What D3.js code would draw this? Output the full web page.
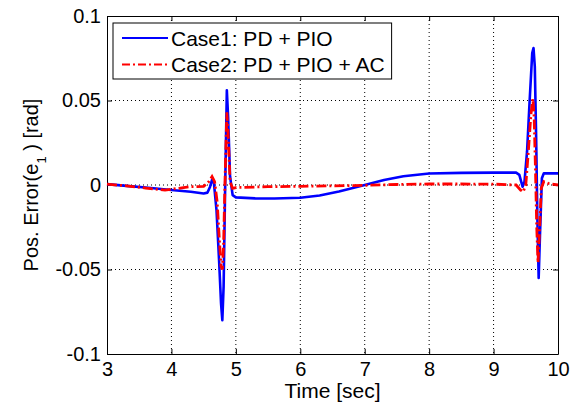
<!DOCTYPE html>
<html>
<head>
<meta charset="utf-8">
<script src="https://cdn.jsdelivr.net/npm/d3@7"></script>
<style>
  body { margin: 0; background: #fff; }
  text { font-family: "Liberation Sans", Arial, sans-serif; }
</style>
</head>
<body>
<script>
// values
const timeCase1 = [3, 3.3, 3.6, 4.0, 4.3, 4.5, 4.56, 4.6, 4.63, 4.66, 4.70, 4.74, 4.77, 4.79, 4.81, 4.83, 4.86, 4.88, 4.91, 4.95, 5.0, 5.3, 5.6, 6.0, 6.3, 6.6, 7.0, 7.3, 7.6, 8.0, 8.5, 9.0, 9.35, 9.4, 9.45, 9.48, 9.52, 9.56, 9.6, 9.62, 9.64, 9.66, 9.68, 9.70, 9.72, 9.75, 9.78, 10]
const errCase1 = [0.0005, -0.0005, -0.0015, -0.003, -0.004, -0.005, -0.0045, -0.001, 0.003, 0.001, -0.015, -0.045, -0.07, -0.08, -0.06, -0.01, 0.056, 0.04, 0.005, -0.006, -0.0073, -0.0079, -0.008, -0.0075, -0.0062, -0.0038, 0.0, 0.003, 0.0052, 0.0068, 0.0072, 0.0073, 0.0073, 0.006, -0.001, 0.002, 0.02, 0.05, 0.078, 0.081, 0.07, 0.03, -0.02, -0.055, -0.03, 0.004, 0.0069, 0.0069]

const timeCase2 = [3, 3.3, 3.6, 3.9, 4.1, 4.3, 4.5, 4.58, 4.63, 4.67, 4.71, 4.74, 4.77, 4.79, 4.81, 4.83, 4.86, 4.88, 4.91, 4.95, 5.0, 5.5, 6, 6.5, 7, 7.5, 8, 8.5, 9, 9.35, 9.42, 9.46, 9.5, 9.54, 9.58, 9.61, 9.63, 9.65, 9.67, 9.69, 9.71, 9.74, 9.78, 9.85, 10]
const errCase2 = [0.0005, -0.0005, -0.0018, -0.003, -0.002, -0.001, -0.0008, 0.002, 0.005, 0.002, -0.01, -0.03, -0.048, -0.05, -0.035, 0.0, 0.043, 0.03, 0.002, -0.002, -0.0015, -0.001, -0.0008, -0.0005, -0.0002, 0.0003, 0.0006, 0.0006, 0.0005, 0.0, -0.003, -0.004, 0.0, 0.02, 0.042, 0.051, 0.04, 0.01, -0.025, -0.046, -0.03, -0.002, 0.002, 0.001, 0.0]

const seriesNames = ["Case1: PD + PIO", "Case2: PD + PIO + AC"]
const xTicks = [3, 4, 5, 6, 7, 8, 9, 10]
const yTicks = [-0.1, -0.05, 0, 0.05, 0.1]

const width = 576
const height = 407
const marginLeft = 107
const marginRight = 18
const marginTop = 16
const marginBottom = 53
const fontSize = 20

const svg = d3.select("body").append("svg")
    .attr("width", width)
    .attr("height", height)
    .attr("viewBox", [0, 0, width, height])

const xScale = d3.scaleLinear().domain([3, 10]).range([marginLeft, width - marginRight])
const yScale = d3.scaleLinear().domain([-0.1, 0.1]).range([height - marginBottom, marginTop])

// dotted grid
svg.append("g")
    .selectAll("line")
    .data(xTicks.slice(1, -1))
    .join("line")
    .attr("x1", d => xScale(d)).attr("x2", d => xScale(d))
    .attr("y1", marginTop).attr("y2", height - marginBottom)
    .attr("stroke", "#000").attr("stroke-width", 1).attr("stroke-dasharray", "1,3")

svg.append("g")
    .selectAll("line")
    .data(yTicks.slice(1, -1))
    .join("line")
    .attr("y1", d => yScale(d)).attr("y2", d => yScale(d))
    .attr("x1", marginLeft).attr("x2", width - marginRight)
    .attr("stroke", "#000").attr("stroke-width", 1).attr("stroke-dasharray", "1,3")

// axes, ticks pointing inwards on all sides
const fmt = d => d === 0 ? "0" : String(d)

svg.append("g")
    .attr("transform", `translate(0,${height - marginBottom})`)
    .call(d3.axisBottom(xScale).tickValues(xTicks).tickSize(-5).tickPadding(8).tickSizeOuter(0).tickFormat(fmt))
    .call(g => g.selectAll("text").attr("font-size", fontSize).attr("fill", "#000")
        .style("font-family", "Liberation Sans, Arial, sans-serif"))

svg.append("g")
    .attr("transform", `translate(0,${marginTop})`)
    .call(d3.axisTop(xScale).tickValues(xTicks).tickSize(-5).tickSizeOuter(0).tickFormat(""))

svg.append("g")
    .attr("transform", `translate(${marginLeft},0)`)
    .call(d3.axisLeft(yScale).tickValues(yTicks).tickSize(-5).tickPadding(6).tickSizeOuter(0).tickFormat(fmt))
    .call(g => g.selectAll("text").attr("font-size", fontSize).attr("fill", "#000")
        .style("font-family", "Liberation Sans, Arial, sans-serif"))

svg.append("g")
    .attr("transform", `translate(${width - marginRight},0)`)
    .call(d3.axisRight(yScale).tickValues(yTicks).tickSize(-5).tickSizeOuter(0).tickFormat(""))

svg.selectAll(".domain").attr("stroke", "#000")

// the curves
const line = d3.line()
    .x(d => xScale(d[0]))
    .y(d => yScale(d[1]))

svg.append("path")
    .datum(d3.zip(timeCase1, errCase1))
    .attr("d", line)
    .attr("fill", "none")
    .attr("stroke", "#0000ff")
    .attr("stroke-width", 2.6)
    .attr("stroke-linejoin", "round")

svg.append("path")
    .datum(d3.zip(timeCase2, errCase2))
    .attr("d", line)
    .attr("fill", "none")
    .attr("stroke", "#ff0000")
    .attr("stroke-width", 2.8)
    .attr("stroke-dasharray", "10,3,2,3")

// legend, box sized to fit the longest entry
const legend = svg.append("g")
const legendBox = legend.append("rect")
    .attr("x", 113).attr("y", 23)
    .attr("height", 56)
    .attr("fill", "#fff").attr("stroke", "#000").attr("stroke-width", 1)

const legendColors = ["#0000ff", "#ff0000"]
const legendDash = [null, "8,3,2,3"]
let textEnd = 0
seriesNames.forEach((name, i) => {
    const y = 38 + i * 26.5
    legend.append("line")
        .attr("x1", 122).attr("x2", 168)
        .attr("y1", y).attr("y2", y)
        .attr("stroke", legendColors[i]).attr("stroke-width", 2)
        .attr("stroke-dasharray", legendDash[i])
    const t = legend.append("text")
        .attr("x", 171).attr("y", y + 7.5)
        .attr("font-size", 21)
        .text(name)
    textEnd = Math.max(textEnd, 171 + t.node().getComputedTextLength())
})
legendBox.attr("width", textEnd + 7 - 113)

// axis labels
svg.append("text")
    .attr("x", xScale(6.5)).attr("y", 398)
    .attr("text-anchor", "middle")
    .attr("font-size", 21)
    .text("Time [sec]")

const ylab = svg.append("text")
    .attr("transform", `translate(38,${yScale(0)}) rotate(-90)`)
    .attr("text-anchor", "middle")
    .attr("font-size", fontSize)
ylab.append("tspan").text("Pos. Error(e")
ylab.append("tspan").attr("baseline-shift", "sub").attr("font-size", 13).text("1")
ylab.append("tspan").text(" ) [rad]")
</script>
</body>
</html>
